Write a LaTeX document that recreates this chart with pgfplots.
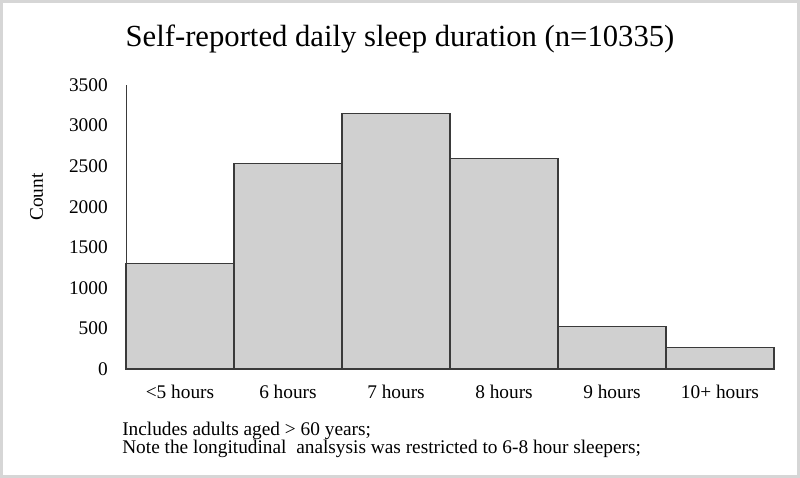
\documentclass[border=0pt]{standalone}
\usepackage{fontspec}
\setmainfont{Liberation Serif}
\usepackage{pgfplots}
\pgfplotsset{compat=1.18}

\definecolor{barfill}{HTML}{D0D0D0}
\definecolor{baredge}{HTML}{3A3A3A}
\definecolor{frame}{HTML}{D6D6D6}

\begin{document}
\begin{tikzpicture}[x=0.75pt,y=0.75pt]
% picture area, 800 x 478 px, origin top left
\useasboundingbox (0,0) rectangle (800,-478);
\draw[frame, line width=2.2pt] (1.5,-1.5) rectangle (798.5,-476.5);

\begin{axis}[
    at={(94.5pt,-276.75pt)}, anchor=south west,
    scale only axis,
    width=486pt, height=213pt,
    xmin=0, xmax=6, ymin=0, ymax=3500,
    axis x line*=bottom, axis y line*=left,
    axis line style={baredge, line width=0.6pt},
    x axis line style={draw=none},
    ytick={0,500,...,3500},
    xtick={0.5,1.5,...,5.5},
    xticklabels={{<5 hours},{6 hours},{7 hours},{8 hours},{9 hours},{10+ hours}},
    major tick length=0pt,
    tick label style={font=\fontsize{14.5}{16}\selectfont, inner sep=0pt},
    /pgf/number format/assume math mode=true,
    /pgf/number format/1000 sep={},
    yticklabel style={anchor=east, xshift=-13.5pt},
    xticklabel style={anchor=north, yshift=-12pt},
    ylabel={Count},
    ylabel style={at={(axis description cs:-0.138,0.605)}, anchor=center, font=\fontsize{14.5}{16}\selectfont},
    clip=false,
]
\addplot[ybar interval, fill=barfill, draw=baredge, line width=0.8pt] coordinates {
    (0,1305) (1,2530) (2,3150) (3,2590) (4,520) (5,260) (6,260)
};
\end{axis}

\node[anchor=base, font=\fontsize{23}{26}\selectfont, inner sep=0pt] at (400,-47) {Self-reported daily sleep duration (n=10335)};
\node[anchor=base west, font=\fontsize{14.5}{16}\selectfont, inner sep=0pt] at (122,-435) {Includes adults aged > 60 years;};
\node[anchor=base west, font=\fontsize{14.5}{16}\selectfont, inner sep=0pt] at (122,-453) {Note the longitudinal\ \ analsysis was restricted to 6-8 hour sleepers;};
\end{tikzpicture}
\end{document}
